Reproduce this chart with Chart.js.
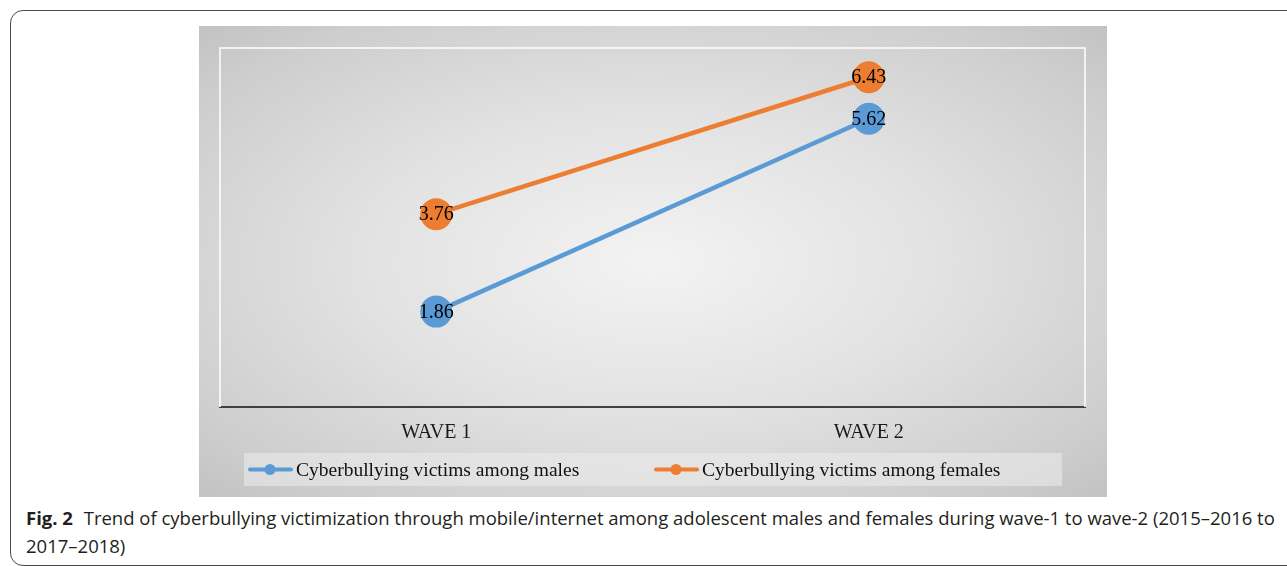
<!DOCTYPE html>
<html>
<head>
<meta charset="utf-8">
<script src="https://cdn.jsdelivr.net/npm/chart.js@4.4.1/dist/chart.umd.min.js"></script>
<style>
  html, body { margin: 0; padding: 0; background: #fff; overflow: hidden; }
  body { width: 1287px; height: 566px; position: relative; }
  .frame {
    position: absolute; left: 10px; top: 10px; width: 1320px; height: 556px;
    border: 1.5px solid #4a4a4a; border-radius: 13px; box-sizing: border-box;
  }
  .plot {
    position: absolute; left: 199px; top: 26px; width: 908px; height: 471px;
    background: radial-gradient(ellipse at 50% 50%, #f3f3f3 0%, #e2e2e2 45%, #cdcdcd 85%, #c2c2c2 100%);
  }
  .caption {
    position: absolute; left: 26px; top: 504px; white-space: nowrap;
    font-family: "Open Sans", "Noto Sans", sans-serif; font-size: 18.5px; line-height: 28px;
    color: #231f20;
  }
  .caption b { font-weight: 700; margin-right: 6px; }
</style>
</head>
<body>
<div class="frame"></div>
<div class="plot"><canvas id="chart" width="908" height="471"></canvas></div>
<div class="caption"><b>Fig. 2</b> Trend of cyberbullying victimization through mobile/internet among adolescent males and females during wave-1 to wave-2 (2015–2016 to<br>2017–2018)</div>
<script>
// data
const categories = ["WAVE 1", "WAVE 2"];
const males = [1.86, 5.62];
const females = [3.76, 6.43];
const seriesNames = ["Cyberbullying victims among males", "Cyberbullying victims among females"];
const colours = ["#5b9bd5", "#ed7d31"];

const SERIF = '"Liberation Serif", "Times New Roman", serif';

// white frame round the plot area (top, left, right)
const plotFrame = {
  id: "plotFrame",
  beforeDatasetsDraw(chart) {
    const { ctx, chartArea: a } = chart;
    ctx.save();
    ctx.strokeStyle = "#ffffff";
    ctx.lineWidth = 1.5;
    ctx.beginPath();
    ctx.moveTo(a.left, a.bottom);
    ctx.lineTo(a.left, a.top);
    ctx.lineTo(a.right, a.top);
    ctx.lineTo(a.right, a.bottom);
    ctx.stroke();
    ctx.restore();
  },
};

// value written in the middle of each marker
const pointValues = {
  id: "pointValues",
  afterDatasetsDraw(chart) {
    const { ctx } = chart;
    ctx.save();
    ctx.font = "20px " + SERIF;
    ctx.fillStyle = "#000";
    ctx.textAlign = "center";
    ctx.textBaseline = "middle";
    chart.data.datasets.forEach((ds, i) => {
      chart.getDatasetMeta(i).data.forEach((pt, j) => {
        ctx.fillText(ds.data[j].toFixed(2), pt.x, pt.y + 1);
      });
    });
    ctx.restore();
  },
};

// legend box under the axis, line + dot symbol
const boxLegend = {
  id: "boxLegend",
  afterDraw(chart) {
    const { ctx } = chart;
    const box = { x: 45, y: 427, w: 818, h: 33 };
    const itemX = [51, 457];
    const cy = box.y + box.h / 2;
    ctx.save();
    ctx.fillStyle = "rgba(236,236,236,0.55)";
    ctx.fillRect(box.x, box.y, box.w, box.h);
    ctx.font = "19.5px " + SERIF;
    ctx.textBaseline = "middle";
    chart.data.datasets.forEach((ds, i) => {
      const x = itemX[i];
      ctx.strokeStyle = ds.borderColor;
      ctx.lineWidth = 4;
      ctx.lineCap = "round";
      ctx.beginPath();
      ctx.moveTo(x, cy);
      ctx.lineTo(x + 41, cy);
      ctx.stroke();
      ctx.fillStyle = ds.borderColor;
      ctx.beginPath();
      ctx.arc(x + 20, cy, 5.5, 0, Math.PI * 2);
      ctx.fill();
      ctx.fillStyle = "#111";
      ctx.fillText(ds.label, x + 46, cy + 1);
    });
    ctx.restore();
  },
};

const line = (label, data, colour) => ({
  label,
  data,
  borderColor: colour,
  backgroundColor: colour,
  borderWidth: 4.5,
  pointRadius: 16,
  pointHoverRadius: 16,
  pointBorderWidth: 0,
  tension: 0,
  clip: false,
});

new Chart(document.getElementById("chart"), {
  type: "line",
  data: {
    labels: categories,
    datasets: [
      line(seriesNames[0], males, colours[0]),
      line(seriesNames[1], females, colours[1]),
    ],
  },
  options: {
    responsive: false,
    animation: false,
    layout: { padding: { left: 21, right: 22, top: 22, bottom: 0 } },
    plugins: { legend: { display: false }, tooltip: { enabled: false } },
    scales: {
      x: {
        offset: true,
        grid: { display: false, drawTicks: false },
        border: { display: true, color: "#404040", width: 2 },
        ticks: { padding: 14, color: "#1a1a1a", font: { family: SERIF, size: 20 } },
        afterFit(scale) { scale.height = 90; },
      },
      y: { display: false, min: 0, max: 7 },
    },
  },
  plugins: [plotFrame, pointValues, boxLegend],
});
</script>
</body>
</html>
